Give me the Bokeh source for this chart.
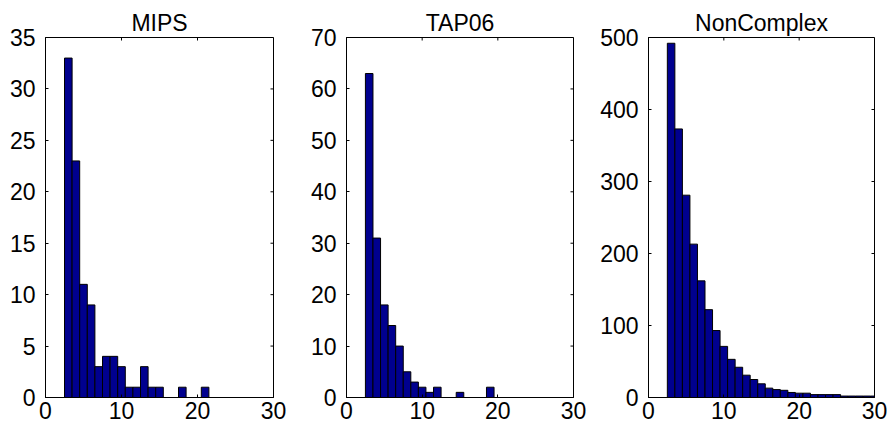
import math
from bokeh.plotting import figure
from bokeh.layouts import row
from bokeh.models import Range1d, FixedTicker
from bokeh.embed import file_html
from bokeh.resources import INLINE

# ---- data ----
titles = ["MIPS", "TAP06", "NonComplex"]

mips_centers = list(range(3, 22))
mips_counts = [33, 23, 11, 9, 3, 4, 4, 3, 1, 1, 3, 1, 1, 0, 0, 1, 0, 0, 1]

tap_centers = list(range(3, 20))
tap_counts = [63, 31, 18, 14, 10, 5, 3, 2, 1, 2, 0, 0, 1, 0, 0, 0, 2]

nc_centers = list(range(3, 31))
nc_counts = [492, 373, 281, 213, 162, 122, 93, 71, 53, 42, 31, 25, 19, 13,
             11, 10, 7, 6, 6, 4, 4, 4, 4, 2, 2, 2, 2, 2]

x_ticks = [0, 10, 20, 30]
mips_yticks = [0, 5, 10, 15, 20, 25, 30, 35]
tap_yticks = [0, 10, 20, 30, 40, 50, 60, 70]
nc_yticks = [0, 100, 200, 300, 400, 500]
y_max = [35, 70, 500]
x_max = 30

FONT = "Liberation Sans"
FSIZE = "23px"
BAR = "#00008F"


def style_axis(ax, ticks, standoff):
    ax.ticker = FixedTicker(ticks=ticks)
    ax.major_tick_in = 3
    ax.major_tick_out = 0
    ax.minor_tick_line_color = None
    ax.axis_line_color = "black"
    ax.major_tick_line_color = "black"
    ax.major_label_text_font = FONT
    ax.major_label_text_color = "black"
    ax.major_label_text_font_size = FSIZE
    ax.major_label_standoff = standoff


def make(title, centers, counts, ymax, yticks, width, bl, br):
    p = figure(width=width, height=424,
               x_range=Range1d(0, x_max), y_range=Range1d(0, ymax),
               output_backend="svg", toolbar_location=None,
               min_border_left=bl, min_border_right=br,
               min_border_top=37, min_border_bottom=27)
    p.title.text = title
    p.title.align = "center"
    p.title.text_font = FONT
    p.title.text_font_size = FSIZE
    p.title.text_font_style = "normal"
    p.title.text_color = "black"
    p.title.standoff = 4
    p.vbar(x=centers, top=counts, bottom=0, width=1,
           fill_color=BAR, line_color="black", line_width=1)
    style_axis(p.xaxis[0], x_ticks, 4)
    style_axis(p.yaxis[0], yticks, 10)
    # inward ticks on the top and right edges of the box
    p.ray(x=x_ticks, y=[ymax] * len(x_ticks), length=3, length_units="screen",
          angle=-math.pi / 2, line_color="black", line_width=1)
    p.ray(x=[x_max] * len(yticks), y=yticks, length=3, length_units="screen",
          angle=math.pi, line_color="black", line_width=1)
    p.grid.visible = False
    p.outline_line_color = "black"
    p.background_fill_color = "white"
    p.border_fill_color = "white"
    return p


f1 = make(titles[0], mips_centers, mips_counts, y_max[0], mips_yticks, 305, 45, 32)
f2 = make(titles[1], tap_centers, tap_counts, y_max[1], tap_yticks, 292, 41, 24)
f3 = make(titles[2], nc_centers, nc_counts, y_max[2], nc_yticks, 290, 49, 13)

layout = row(f1, f2, f3)
open("out.html", "w").write(file_html(layout, INLINE))
